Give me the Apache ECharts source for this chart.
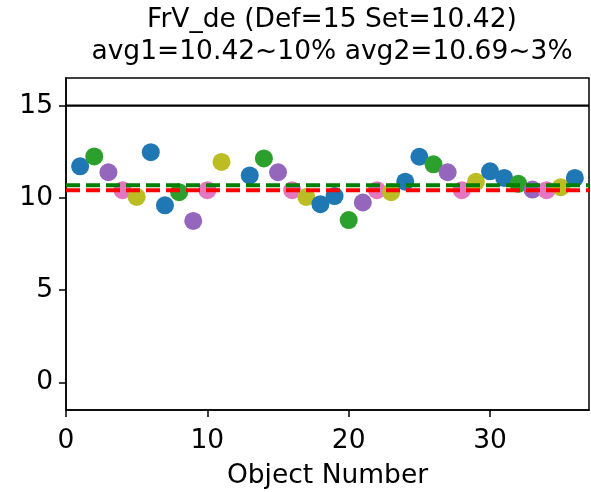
<!DOCTYPE html>
<html>
<head>
<meta charset="utf-8">
<script src="https://cdn.jsdelivr.net/npm/echarts@6/dist/echarts.min.js"></script>
<style>
  html, body { margin: 0; padding: 0; background: #fff; }
  #main { width: 591px; height: 492px; }
</style>
</head>
<body>
<div id="main"></div>
<script>
// object numbers and measured values
var objectNumbers = [1, 2, 3, 4, 5, 6, 7, 8, 9, 10, 11, 13, 14, 15, 16, 17, 18, 19,
  20, 21, 22, 23, 24, 25, 26, 27, 28, 29, 30, 31, 32, 33, 34, 35, 36];
var values = [11.71, 12.25, 11.39, 10.42, 10.05, 12.48, 9.6, 10.31, 8.75, 10.42, 11.95,
  11.22, 12.14, 11.39, 10.42, 10.05, 9.66, 10.1, 8.8, 9.75, 10.42, 10.31, 10.88, 12.23,
  11.82, 11.39, 10.42, 10.87, 11.44, 11.08, 10.76, 10.45, 10.42, 10.58, 11.08];
var pointColors = ['#1f77b4', '#2ca02c', '#9467bd', '#e377c2', '#bcbd22', '#1f77b4', '#1f77b4',
  '#2ca02c', '#9467bd', '#e377c2', '#bcbd22', '#1f77b4', '#2ca02c', '#9467bd', '#e377c2',
  '#bcbd22', '#1f77b4', '#1f77b4', '#2ca02c', '#9467bd', '#e377c2', '#bcbd22', '#1f77b4',
  '#1f77b4', '#2ca02c', '#9467bd', '#e377c2', '#bcbd22', '#1f77b4', '#1f77b4', '#2ca02c',
  '#9467bd', '#e377c2', '#bcbd22', '#1f77b4'];

var defValue = 15;
var avg1 = 10.42;
var avg2 = 10.69;
var xTicks = [0, 10, 20, 30];
var yTicks = [0, 5, 10, 15];
var xRange = [0, 37];
var yRange = [-1.5, 16.5];

var chartDom = document.getElementById('main');
var myChart = echarts.init(chartDom);
var font = 'DejaVu Sans';
var fs = 26.5;

var points = objectNumbers.map(function (n, i) {
  return { value: [n, values[i]], itemStyle: { color: pointColors[i] } };
});

function hline(y) {
  return [[xRange[0], y], [xRange[1], y]];
}

var option = {
  animation: false,
  title: {
    text: 'FrV_de (Def=' + defValue + ' Set=' + avg1 + ')\navg1=' + avg1 + '~10% avg2=' + avg2 + '~3%',
    left: 327,
    textAlign: 'center',
    top: -1,
    textStyle: { fontFamily: font, fontSize: fs, fontWeight: 'normal', color: '#000', lineHeight: 32 }
  },
  grid: {
    left: 66, right: 2, top: 78, bottom: 82,
    outerBoundsMode: 'none',
    show: true, borderColor: '#000', borderWidth: 1.5
  },
  xAxis: {
    type: 'value',
    min: xRange[0], max: xRange[1],
    name: 'Object Number',
    nameLocation: 'middle',
    nameGap: 53,
    nameTextStyle: { fontFamily: font, fontSize: fs, color: '#000' },
    axisLine: { onZero: false, lineStyle: { color: '#000', width: 1.5 } },
    axisTick: { inside: false, length: 7, lineStyle: { color: '#000', width: 1.5 }, customValues: xTicks },
    axisLabel: { fontFamily: font, fontSize: fs, color: '#000', margin: 18, customValues: xTicks },
    splitLine: { show: false }
  },
  yAxis: {
    type: 'value',
    min: yRange[0], max: yRange[1],
    axisLine: { show: true, onZero: false, lineStyle: { color: '#000', width: 1.5 } },
    axisTick: { show: true, inside: false, length: 7, lineStyle: { color: '#000', width: 1.5 }, customValues: yTicks },
    axisLabel: { fontFamily: font, fontSize: fs, color: '#000', margin: 13, customValues: yTicks },
    splitLine: { show: false }
  },
  series: [
    {
      type: 'scatter',
      symbol: 'circle',
      symbolSize: 18,
      itemStyle: { opacity: 1 },
      data: points,
      z: 2
    },
    {
      type: 'line',
      data: hline(defValue),
      symbol: 'none',
      lineStyle: { color: '#000', width: 2.2 },
      z: 3
    },
    {
      type: 'line',
      data: hline(avg1),
      symbol: 'none',
      lineStyle: { color: '#ff0000', width: 4, type: [14, 6] },
      z: 3
    },
    {
      type: 'line',
      data: hline(avg2),
      symbol: 'none',
      lineStyle: { color: '#008000', width: 4, type: [14, 6] },
      z: 4
    }
  ]
};

option && myChart.setOption(option);
</script>
</body>
</html>
